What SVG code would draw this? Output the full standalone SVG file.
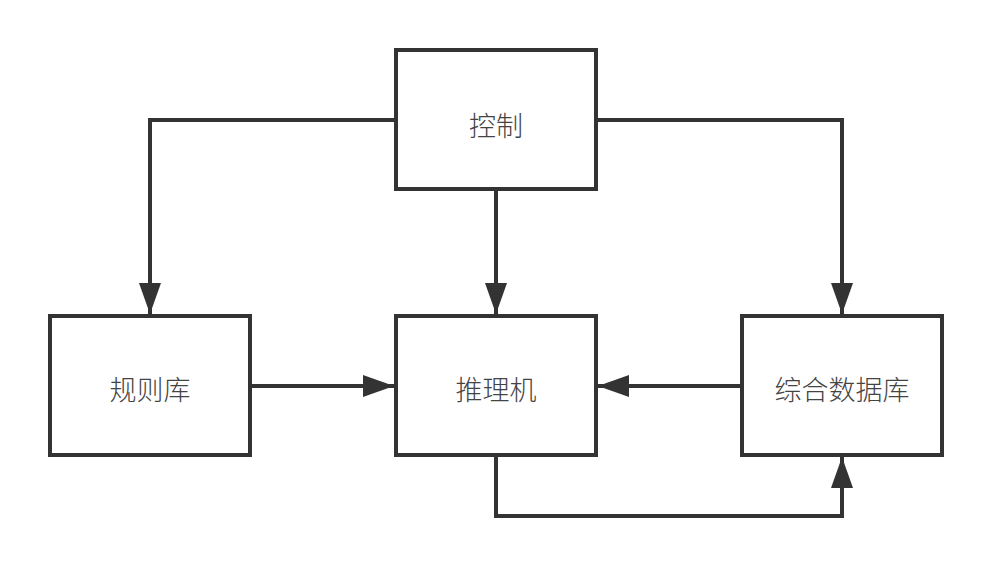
<svg xmlns="http://www.w3.org/2000/svg" width="992" height="566" viewBox="0 0 992 566">
<style>
.box{fill:#fff;stroke:#333;stroke-width:4}
.lbl{font-family:"Noto Sans CJK SC","Noto Sans CJK JP",sans-serif;font-size:27px;font-weight:300;fill:#444;text-anchor:middle;dominant-baseline:central}
.con{fill:none;stroke:#333;stroke-width:4}
</style>
<defs>
<marker id="ah" markerUnits="userSpaceOnUse" markerWidth="32" markerHeight="24" refX="31" refY="11" orient="auto" viewBox="0 0 32 22">
<path d="M0,0 L31,11 L0,22 Z" fill="#333"/>
</marker>
</defs>
<rect width="992" height="566" fill="#fff"/>
<g id="connectors">
<path class="con" d="M396,120 H150 V314" marker-end="url(#ah)"/>
<path class="con" d="M596,120 H842 V314" marker-end="url(#ah)"/>
<path class="con" d="M496,189 V314" marker-end="url(#ah)"/>
<path class="con" d="M250,386 H394" marker-end="url(#ah)"/>
<path class="con" d="M742,386 H598" marker-end="url(#ah)"/>
<path class="con" d="M496,455 V516 H842 V457" marker-end="url(#ah)"/>
</g>
<g id="control"><rect class="box" x="396" y="50" width="200" height="139"/><text class="lbl" x="496" y="124">控制</text></g>
<g id="rules"><rect class="box" x="50" y="316" width="200" height="139"/><text class="lbl" x="150" y="388">规则库</text></g>
<g id="engine"><rect class="box" x="396" y="316" width="200" height="139"/><text class="lbl" x="496" y="388">推理机</text></g>
<g id="database"><rect class="box" x="742" y="316" width="200" height="139"/><text class="lbl" x="842" y="388">综合数据库</text></g>
</svg>
